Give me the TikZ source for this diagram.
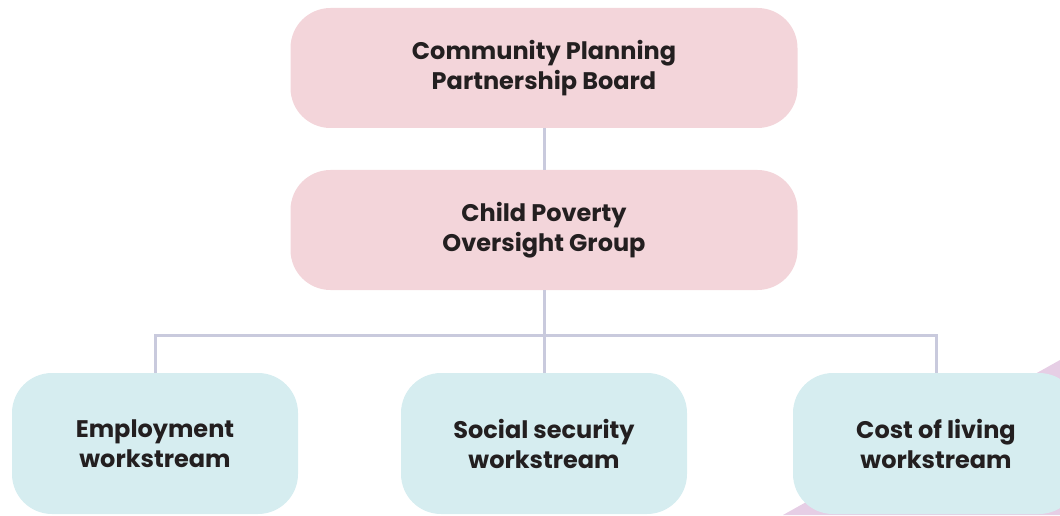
\documentclass[tikz,border=0pt]{standalone}
\usepackage{fontspec}
\setmainfont{Poppins}
\definecolor{pinkbox}{HTML}{F3D5DA}
\definecolor{cyanbox}{HTML}{D6EDF0}
\definecolor{linec}{HTML}{C9CADD}
\definecolor{txt}{HTML}{231F20}
\definecolor{purp}{HTML}{E6CEE5}
\tikzset{
  box/.style={rounded corners=40pt, text=txt, font=\bfseries\fontsize{24}{30}\selectfont, align=center, inner sep=0pt},
  pinkb/.style={box, fill=pinkbox, minimum width=507pt, minimum height=120pt},
  cyanb/.style={box, fill=cyanbox, minimum width=286pt, minimum height=141pt},
  conn/.style={draw=linec, line width=3pt}
}
\begin{document}
\begin{tikzpicture}[x=1pt,y=1pt]
\useasboundingbox (0,0) rectangle (1060,515);
\fill[purp] (783,0) -- (1060,155) -- (1060,0) -- cycle;
\node[pinkb] (cppb) at (544,447) {Community Planning\\Partnership Board};
\node[pinkb] (cpog) at (544,285) {Child Poverty\\Oversight Group};
\node[cyanb] (emp) at (155,71.5) {Employment\\workstream};
\node[cyanb] (soc) at (544,71.5) {Social security\\workstream};
\node[cyanb] (col) at (936,71.5) {Cost of living\\workstream};
\coordinate (j) at (544,180);
\draw[conn] (cppb.south) -- (cpog.north);
\draw[conn] (cpog.south) -- (j);
\draw[conn] (emp.north) |- (j) -| (col.north);
\draw[conn] (j) -- (soc.north);
\end{tikzpicture}
\end{document}
